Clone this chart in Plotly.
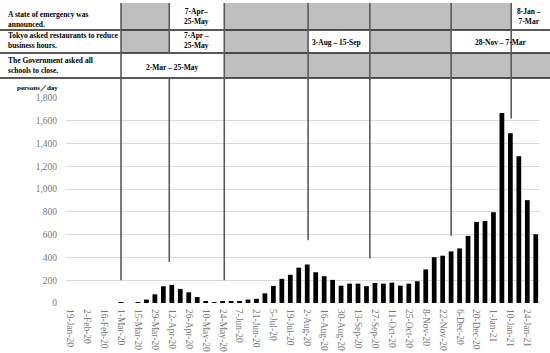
import plotly.graph_objects as go

# ---------------- data ----------------
weekly_cases = [0, 0, 0, 0, 0, 0, 4, 0, 6, 30,
                76, 147, 159, 124, 94, 52, 16, 8, 12, 15,
                16, 30, 37, 85, 150, 212, 248, 310, 338, 270,
                235, 203, 152, 170, 170, 148, 176, 170, 179, 152,
                170, 191, 295, 402, 415, 453, 479, 590, 712, 720,
                797, 1668, 1491, 1288, 903, 603]
week_index = list(range(len(weekly_cases)))

tick_labels = ["19-Jan-20", "2-Feb-20", "16-Feb-20", "1-Mar-20", "15-Mar-20", "29-Mar-20",
               "12-Apr-20", "26-Apr-20", "10-May-20", "24-May-20", "7-Jun-20", "21-Jun-20",
               "5-Jul-20", "19-Jul-20", "2-Aug-20", "16-Aug-20", "30-Aug-20", "13-Sep-20",
               "27-Sep-20", "11-Oct-20", "25-Oct-20", "8-Nov-20", "22-Nov-20", "6-Dec-20",
               "20-Dec-20", "1-Jan-21", "10-Jan-21", "24-Jan-21"]
tick_positions = week_index[::2]

y_ticks = [0, 200, 400, 600, 800, 1000, 1200, 1400, 1600, 1800]

# event dates (position on the week axis) and where their marker lines stop (persons/day)
event_dates = ["2-Mar", "7-Apr", "25-May", "3-Aug", "15-Sep", "28-Nov", "8-Jan"]
event_pos = [6.0, 11.7, 18.2, 28.1, 35.4, 45.0, 52.1]
event_line_end = [200, 360, 200, 550, 390, 590, 1620]

row_labels = ["A state of emergency was<br>announced.",
              "Tokyo asked restaurants to reduce<br>business hours.",
              "The Government asked all<br>schools to close."]

# ---------------- geometry helpers ----------------
W, H = 550, 353
ML, MR, MT, MB = 66, 10, 98, 50
PW, PH = W - ML - MR, H - MT - MB
N = len(weekly_cases)
X0, X1 = -0.5, N - 0.5
Y0, Y1 = 0, 1800


def xp(idx):          # week-axis value -> paper x
    return (idx - X0) / (X1 - X0)


def yp(val):          # persons/day value -> paper y
    return (val - Y0) / (Y1 - Y0)


def pxx(px):          # page pixel -> paper x
    return (px - ML) / PW


def pxy(py):          # page pixel -> paper y
    return (H - MB - py) / PH


fig = go.Figure()
fig.add_trace(go.Bar(x=week_index, y=weekly_cases, marker=dict(color="black", line=dict(width=0)),
                     showlegend=False, hoverinfo="x+y"))

shapes = []
annotations = []

GRAY = "#bfbfbf"
LINE = "#5a5a5a"
FONT = "Liberation Serif"
TSIZE = 7.5

# table row boundaries (page pixels)
row_top = [3, 30, 53]
row_bot = [30, 53, 78]
x_left, x_right = pxx(0), pxx(W)

E = [xp(p) for p in event_pos]

# gray cells
gray_cells = [
    (0, E[0], E[1]), (0, E[2], E[6]),
    (1, E[0], E[1]), (1, E[2], E[3]), (1, E[4], E[5]),
    (2, E[2], x_right),
]
for r, a, b in gray_cells:
    shapes.append(dict(type="rect", xref="paper", yref="paper", x0=a, x1=b,
                       y0=pxy(row_bot[r]), y1=pxy(row_top[r]),
                       fillcolor=GRAY, line=dict(width=0), layer="below"))

# horizontal table lines
for yy in row_bot:
    shapes.append(dict(type="line", xref="paper", yref="paper", x0=x_left, x1=x_right,
                       y0=pxy(yy), y1=pxy(yy), line=dict(color="#222222", width=1.3)))

# vertical event lines
for i, (ex, yend) in enumerate(zip(E, event_line_end)):
    if i == 1:
        shapes.append(dict(type="line", xref="paper", yref="paper", x0=ex, x1=ex,
                           y0=pxy(row_top[0]), y1=pxy(row_bot[1]), line=dict(color=LINE, width=1.6)))
        shapes.append(dict(type="line", xref="paper", yref="paper", x0=ex, x1=ex,
                           y0=pxy(row_bot[2]), y1=yp(yend), line=dict(color=LINE, width=1.6)))
    else:
        shapes.append(dict(type="line", xref="paper", yref="paper", x0=ex, x1=ex,
                           y0=pxy(row_top[0]), y1=yp(yend), line=dict(color=LINE, width=1.6)))

# row labels
row_text_y = [19, 41, 65]
for lbl, yy in zip(row_labels, row_text_y):
    annotations.append(dict(xref="paper", yref="paper", x=pxx(6), y=pxy(yy), text="<b>" + lbl + "</b>",
                            showarrow=False, xanchor="left", yanchor="middle", align="left",
                            font=dict(family=FONT, size=TSIZE, color="black")))

# cell texts
cell_texts = [
    ("7-Apr–<br>25-May", (E[1] + E[2]) / 2, 16.5),
    ("8-Jan –<br>7-Mar", pxx(529), 16.5),
    ("7-Apr –<br>25-May", (E[1] + E[2]) / 2, 40.5),
    ("3-Aug – 15-Sep", pxx(336), 42.5),
    ("28-Nov – 7-Mar", pxx(500), 42.5),
    ("2-Mar – 25-May", (E[0] + E[2]) / 2, 67),
]
for t, xx, yy in cell_texts:
    annotations.append(dict(xref="paper", yref="paper", x=xx, y=pxy(yy), text="<b>" + t + "</b>",
                            showarrow=False, xanchor="center", yanchor="middle", align="center",
                            font=dict(family=FONT, size=TSIZE, color="black")))

# unit label
annotations.append(dict(xref="paper", yref="paper", x=pxx(37), y=pxy(88.5), text="<b>persons／day</b>",
                        showarrow=False, xanchor="center", yanchor="middle",
                        font=dict(family=FONT, size=7, color="black")))

fig.update_layout(
    template="none",
    width=W, height=H,
    margin=dict(l=ML, r=MR, t=MT, b=MB, pad=0),
    paper_bgcolor="white", plot_bgcolor="white",
    bargap=0.44,
    shapes=shapes,
    annotations=annotations,
    showlegend=False,
    xaxis=dict(range=[X0, X1], tickmode="array", tickvals=tick_positions, ticktext=tick_labels,
               tickangle=90, showgrid=False, zeroline=False, showline=False, ticks="",
               tickfont=dict(family=FONT, size=9.5, color="#7a7a7a"), automargin=False,
               ticklabelstandoff=5),
    yaxis=dict(range=[Y0, Y1], tickmode="array", tickvals=y_ticks,
               ticktext=[f"{v:,}" for v in y_ticks],
               showgrid=True, gridcolor="#d9d9d9", gridwidth=1, zeroline=False, showline=False,
               ticks="", tickfont=dict(family=FONT, size=9.5, color="#7a7a7a"), automargin=False,
               ticklabelstandoff=8),
)

fig.write_html("out.html", config={"displayModeBar": False},
               post_script="document.body.style.margin='0';document.body.style.overflow='hidden';")
